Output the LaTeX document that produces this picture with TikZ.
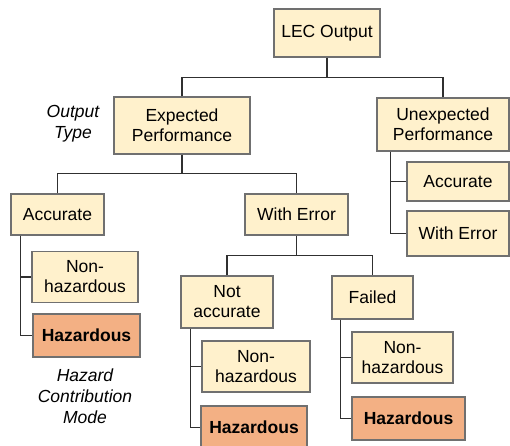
\documentclass[tikz,border=0pt]{standalone}
\usepackage{fontspec}
\setmainfont{Liberation Sans}
\usetikzlibrary{calc,positioning}
\definecolor{boxfill}{HTML}{FFF1CC}
\definecolor{hazfill}{HTML}{F3B084}
\definecolor{boxline}{HTML}{707070}
\definecolor{treeline}{HTML}{303030}
\tikzset{
    treebox/.style  = {draw=boxline, line width=1.1pt, fill=boxfill, align=center,
                       inner sep=2pt, font=\fontsize{17.5}{20}\selectfont},
    hazbox/.style   = {treebox, fill=hazfill, font=\fontsize{17.5}{20}\selectfont\bfseries},
    treelink/.style = {draw=treeline, line width=1.1pt},
    sidenote/.style = {align=center, font=\fontsize{17.5}{21}\selectfont\itshape}
}

\begin{document}
\begin{tikzpicture}[x=1pt, y=-1pt]
    \useasboundingbox (0,0) rectangle (510,445);

    % top levels
    \node[treebox, minimum width=106, minimum height=48] (lec)   at (327,33)    {LEC Output};
    \node[treebox, minimum width=136, minimum height=57] (exp)   at (182,125.5) {Expected\\Performance};
    \node[treebox, minimum width=132, minimum height=53] (unexp) at (443,124.5) {Unexpected\\Performance};

    % children of expected performance
    \node[treebox, minimum width=93,  minimum height=41] (acc)  at (57.5,214.5)  {Accurate};
    \node[treebox, minimum width=103, minimum height=41] (werr) at (296.5,214.5) {With Error};

    % children of with error
    \node[treebox, minimum width=92, minimum height=52] (notacc) at (227,302)    {Not\\accurate};
    \node[treebox, minimum width=81, minimum height=43] (failed) at (372.5,297.5) {Failed};

    % children of unexpected performance
    \node[treebox, minimum width=102, minimum height=39] (uacc)  at (458,181.5) {Accurate};
    \node[treebox, minimum width=102, minimum height=45] (uwerr) at (458,233.5) {With Error};

    % hazard contribution leaves
    \foreach \Name/\X/\Y/\W in {%
        acc/85/277/106,
        notacc/256/366.5/108,
        failed/402.5/357.5/101%
        }
        \node[treebox, minimum width=\W, minimum height=51] (\Name-nh) at (\X,\Y) {Non-\\hazardous};
    \foreach \Name/\X/\Y/\W in {%
        acc/86.5/335.5/107,
        notacc/254/427.5/106,
        failed/408.5/418.5/113%
        }
        \node[hazbox, minimum width=\W, minimum height=43] (\Name-hz) at (\X,\Y) {Hazardous};

    % side notes
    \node[sidenote] (outtype) at (73,124)  {Output\\Type};
    \node[sidenote] (hazmode) at (85,396)  {Hazard\\Contribution\\Mode};

    % bus connectors
    \coordinate (lecbus)  at ($(lec.south)+(0,20)$);
    \coordinate (expbus)  at ($(exp.south)+(0,19)$);
    \coordinate (werrbus) at ($(werr.south)+(0,20)$);
    \draw[treelink] (lec.south) -- (lecbus);
    \draw[treelink] (exp.north) |- (lecbus) -| (unexp.north);
    \draw[treelink] (exp.south) -- (expbus);
    \draw[treelink] (acc.north) |- (expbus) -| (werr.north);
    \draw[treelink] (werr.south) -- (werrbus);
    \draw[treelink] (notacc.north) |- (werrbus) -| (failed.north);

    % spine connectors
    \foreach \Name/\Off in {acc/10, notacc/10, failed/9}
        {
        \coordinate (\Name-spine) at ($(\Name.south west)+(\Off,0)$);
        \draw[treelink] (\Name-spine) |- (\Name-nh.west);
        \draw[treelink] (\Name-spine) |- (\Name-hz.west);
        }
    \coordinate (unexp-spine) at ($(unexp.south west)+(14,0)$);
    \draw[treelink] (unexp-spine) |- (uacc.west);
    \draw[treelink] (unexp-spine) |- (uwerr.west);
\end{tikzpicture}
\end{document}
